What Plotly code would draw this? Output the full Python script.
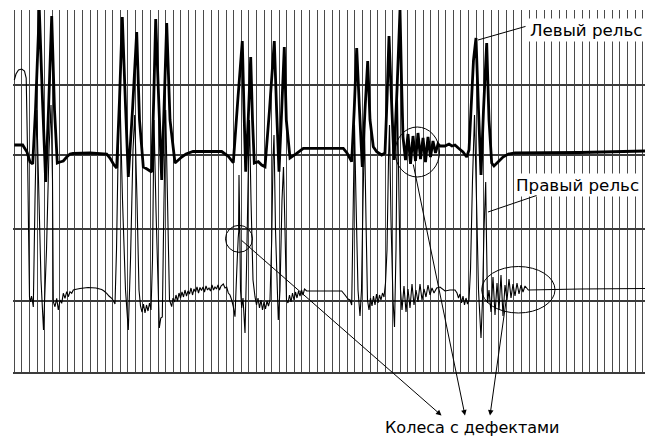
import plotly.graph_objects as go

# ---- data: left rail (thick trace), (time, level) samples ----
left_rail = [
    (0.3, 228), (8.7, 228), (13, 221), (16, 211), (18.7, 209), (21.5, 263), (25.3, 363), (28.5, 273),
    (31.7, 191), (34.5, 263), (37.7, 357), (40.5, 263), (43.3, 210), (46, 211), (49.3, 212), (52.7, 216),
    (56, 219), (59, 219.5), (76, 220), (92.7, 219), (96, 215), (100, 208), (102.7, 205), (105.5, 273),
    (108.3, 356), (111.3, 273), (114.3, 196), (118.5, 263), (122.7, 341), (125.5, 253), (129.3, 206),
    (133, 204), (137.7, 201), (139.7, 273), (141.7, 354), (144.7, 273), (147.7, 193), (150, 263),
    (152.7, 350), (156, 253), (161, 210), (167.7, 216), (172, 219), (179, 221.5), (207.7, 221.5),
    (214, 217), (219.3, 210.3), (223.8, 273), (228.3, 332), (230, 263), (231.7, 201.3), (234.2, 253),
    (236.7, 316), (238.5, 253), (240.3, 210), (244.3, 211.3), (247.7, 208), (251, 206.3), (255.5, 263),
    (260.3, 332), (262.6, 263), (265, 201.3), (267.7, 263), (270.3, 326), (272.3, 253), (276, 215),
    (282.7, 219.7), (289.3, 224.7), (329.3, 224.7), (333, 220), (337.7, 211.3), (340.2, 263), (342.7, 325),
    (345.5, 263), (348.3, 206), (351, 263), (353.7, 312), (356, 253), (359.3, 226.3), (362.7, 221.3),
    (367.7, 218), (371, 220), (373, 273), (375, 337), (377.5, 273), (380, 213), (383, 283), (386, 363),
    (387.5, 293), (389, 236), (391.5, 213), (394, 239), (396.5, 209), (399, 237), (401.5, 212),
    (404, 240), (406.5, 214), (409, 235), (411.5, 211), (414, 236), (416.5, 216), (419, 232),
    (421.5, 220), (424, 229), (426, 227), (431, 227), (435, 229), (438, 227), (441, 228),
    (444.3, 225), (449, 221), (452.7, 216), (455, 223), (457, 263), (459.5, 313), (462, 335), (464.5, 263),
    (467, 198), (469.5, 263), (472.7, 330), (475, 253), (477.7, 210), (480, 207), (484, 211), (489, 216),
    (494.3, 219), (501, 220), (566, 220.5), (631, 222),
]

# ---- data: right rail (thin trace) ----
right_rail = [
    (0.3, 293), (2, 299), (4.5, 303), (7.7, 304), (10.5, 302), (12.2, 295), (13.5, 223), (14.7, 133),
    (15.5, 76), (16.5, 71), (17.5, 77), (18.3, 73), (19.3, 66), (21, 173), (22.8, 263), (24.5, 193),
    (27, 93), (29.5, 43), (32.5, 123), (35, 223), (37, 268), (38.5, 193), (39.3, 71.3), (41, 66.3),
    (42.7, 74.7), (44.3, 63), (46, 73), (47.7, 69.7), (49.3, 79.7), (51, 74.7), (52.7, 81.3), (54.3, 76.3),
    (56, 81.3), (57.7, 79.7), (59.3, 83), (61, 83.5), (66, 84.5), (74, 85.5), (82, 85), (87.7, 83.5),
    (90, 82), (92.7, 79.7), (95, 77), (97.7, 74.7), (99.5, 72), (101, 69), (102.5, 123), (104.5, 243),
    (106.3, 263), (108.5, 173), (111.5, 83), (114.3, 43), (116.5, 113), (119, 223), (120.7, 258),
    (123, 173), (125, 83), (126.5, 67), (128, 61), (129.5, 69), (131, 60), (132.5, 68), (134, 62),
    (135.5, 70), (137, 63), (138.5, 113), (140, 253), (142, 163), (145.3, 45), (146.8, 55), (148.3, 56),
    (150, 173), (151.7, 263), (153.5, 173), (155.5, 73), (157.7, 66.3), (159, 75), (160.5, 71), (162, 78),
    (163.5, 72), (165, 80), (166.5, 75), (168, 81), (169.5, 76), (171, 83), (172.5, 77), (174, 82),
    (175.5, 79), (177, 85), (178.5, 78), (180, 84), (181.5, 81), (183, 86), (184.5, 80), (186, 85.5),
    (187.5, 82.5), (189, 86), (190.5, 81), (192, 87), (193.5, 83), (195, 85), (196.5, 82), (198, 88),
    (199.5, 83), (201, 86), (202.5, 84), (204, 88), (205.5, 83), (207, 87), (209.3, 89), (211, 85),
    (212.7, 86), (214.3, 80), (216, 78), (217.7, 73), (219.3, 66.3), (221, 56.3), (222.8, 103),
    (224.2, 135), (224.8, 142), (224.6, 147), (225, 198), (225.8, 143), (226.5, 83), (227.7, 65), (229, 75),
    (231, 40), (232.5, 103), (234.5, 213), (235.5, 253), (237, 173), (239, 93), (241, 76.3), (242.5, 68),
    (244, 75), (245.5, 65), (247, 73), (248.5, 63), (250, 71), (251.5, 64), (253, 72), (254.5, 67),
    (256, 73), (257.7, 133), (259, 213), (260, 238), (261.5, 143), (264.3, 53), (266, 83), (268, 173),
    (269.5, 206), (271, 143), (272.5, 73), (274, 70), (275.5, 78), (277, 71), (278.5, 80), (280, 73),
    (281.5, 81), (283, 75), (284.5, 82), (286, 77), (287.5, 83), (289, 78), (290.5, 84), (292.7, 82),
    (327.7, 82), (331, 78), (334, 74), (336, 73), (337.7, 68), (339, 153), (340.5, 248), (342, 173),
    (344, 83), (346, 57), (347.5, 83), (349, 173), (350.5, 243), (352, 153), (353.5, 73), (355, 63),
    (356.5, 75), (358, 67), (359.5, 77), (361, 68), (362.5, 79), (364, 70), (365.5, 78), (367, 73),
    (368.5, 80), (370, 76), (371.5, 90), (373, 123), (374.5, 213), (375.5, 248), (377, 153), (379, 73),
    (380.5, 46), (382, 123), (383.5, 273), (385, 173), (386.5, 83), (388, 63), (390, 87), (392, 61),
    (394, 84), (396, 65), (398, 89), (400, 68), (402, 83), (404, 71), (406, 89), (408, 73), (410, 84),
    (412, 76), (414, 88), (416, 78), (418, 85), (420, 80), (422.7, 85), (426, 86), (431, 82), (436, 83),
    (441, 83), (443, 80), (444.5, 75), (446, 79), (447.5, 70), (449, 77), (450.5, 68), (452, 75),
    (453.5, 69), (455, 73), (456.5, 103), (458.5, 193), (460.5, 258), (462.5, 173), (464.5, 83), (467, 35),
    (468.5, 73), (470, 143), (471.7, 191), (472.5, 133), (473.5, 70), (475, 83), (477, 61), (479, 96),
    (481, 58), (483, 90), (485, 63), (487, 98), (489, 57), (491, 88), (493, 73), (495, 94), (497, 75),
    (499, 89), (501, 77), (503, 90), (505, 79), (507, 88), (509, 81), (511, 87), (514.3, 83), (566, 84),
    (631, 84.5),
]

grid_x_step = 7.57
grid_y_vals = [0.3, 72.3, 144, 217.7, 288.3, 362.3]

label_left = "Левый рельс"
label_right = "Правый рельс"
label_defects = "Колеса с дефектами"

lt, lv = zip(*left_rail)
rt, rv = zip(*right_rail)

fig = go.Figure()
fig.add_trace(go.Scatter(x=list(rt), y=list(rv), mode="lines",
                         line=dict(color="black", width=1.1, simplify=False),
                         hoverinfo="skip"))
fig.add_trace(go.Scatter(x=list(lt), y=list(lv), mode="lines",
                         line=dict(color="black", width=2.8, simplify=False),
                         hoverinfo="skip"))

shapes = [
    dict(type="circle", xref="x", yref="y", x0=211.5, x1=238.5, y0=120.7, y1=147.7,
         line=dict(color="black", width=1)),
    dict(type="circle", xref="x", yref="y", x0=381, x1=425.5, y0=196, y1=246,
         line=dict(color="black", width=1)),
    dict(type="circle", xref="x", yref="y", x0=467.7, x1=541, y0=60, y1=106.5,
         line=dict(color="black", width=1)),
]

font_rail = dict(family="DejaVu Sans", size=16.7, color="black")
font_def = dict(family="DejaVu Sans", size=16, color="black")
annotations = [
    dict(text=label_left, x=513.5, y=343.1, xref="x", yref="y", xanchor="left", yanchor="middle",
         showarrow=False, bgcolor="white", font=font_rail, borderpad=1),
    dict(text=label_right, x=499.5, y=188, xref="x", yref="y", xanchor="left", yanchor="middle",
         showarrow=False, bgcolor="white", font=font_rail, borderpad=1),
    dict(text=label_defects, x=369, y=-0.146, xref="x", yref="paper", xanchor="left", yanchor="middle",
         showarrow=False, font=font_def),
]
# leader lines
for (hx, hy, tx, ty) in [(464, 333, 513, 347), (474, 161, 524, 178)]:
    annotations.append(dict(text="", x=hx, y=hy, ax=tx, ay=ty, xref="x", yref="y", axref="x", ayref="y",
                            showarrow=True, arrowhead=0, arrowwidth=1, arrowcolor="black",
                            standoff=0, startstandoff=0))
# arrows to defects label
for (hx, hy, tx, ty) in [(427.5, -42.5, 226, 134), (451, -42.5, 399, 210), (476, -42.5, 492.5, 75)]:
    annotations.append(dict(text="", x=hx, y=hy, ax=tx, ay=ty, xref="x", yref="y", axref="x", ayref="y",
                            showarrow=True, arrowhead=2, arrowsize=1.1, arrowwidth=1, arrowcolor="black",
                            standoff=0, startstandoff=0))

fig.update_layout(
    width=645, height=437, autosize=False,
    margin=dict(l=13, r=0, t=10, b=63, pad=0),
    paper_bgcolor="white", plot_bgcolor="white",
    showlegend=False,
    shapes=shapes, annotations=annotations,
    xaxis=dict(range=[-1, 631], showticklabels=False, ticks="", zeroline=False, showline=False,
               showgrid=True, gridcolor="#4a4a4a", gridwidth=1.2, tick0=0.3, dtick=grid_x_step,
               fixedrange=True),
    yaxis=dict(range=[-1, 363], showticklabels=False, ticks="", zeroline=False, showline=False,
               showgrid=True, gridcolor="#3c3c3c", gridwidth=1.6, tickmode="array", tickvals=grid_y_vals,
               fixedrange=True),
)

fig.write_html("out.html", config={"displayModeBar": False},
               post_script="document.body.style.margin='0';document.body.style.overflow='hidden';")
